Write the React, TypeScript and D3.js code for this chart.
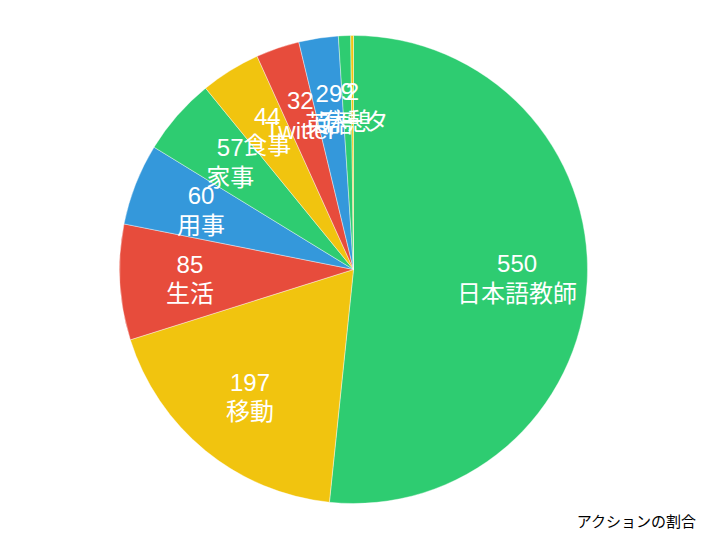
import React from "react";
import * as d3 from "d3";

const categories = ["日本語教師", "移動", "生活", "用事", "家事", "食事", "Twitter", "英語", "休憩", "データ"];
const values = [550, 197, 85, 60, 57, 44, 32, 29, 9, 2];
const palette = ["#2ecc71", "#f1c40f", "#e74c3c", "#3498db"];
const title = "アクションの割合";

const W = 706;
const H = 540;
const cx = 353.5;
const cy = 269.5;
const R = 234;
const FONT = "'Liberation Sans', 'Noto Sans CJK JP', sans-serif";

export default function App() {
  const pie = d3.pie<number>().sort(null).value((d) => d).startAngle(0).endAngle(2 * Math.PI);
  const arcs = pie(values);
  const arc = d3.arc<d3.PieArcDatum<number>>().innerRadius(0).outerRadius(R);
  const labelArc = d3.arc<d3.PieArcDatum<number>>().innerRadius(R * 0.7).outerRadius(R * 0.7);
  const color = (i: number) => palette[i % palette.length];

  return (
    <svg
      width={W}
      height={H}
      style={{ position: "absolute", left: 0, top: 0, display: "block", background: "#fff" }}
    >
      <g transform={`translate(${cx},${cy})`}>
        {arcs.map((a, i) => (
          <path key={"s" + i} d={arc(a) || ""} fill={color(i)} stroke="#ffffff" strokeWidth={0.4} />
        ))}
        {arcs.map((a, i) => {
          const [x, y] = labelArc.centroid(a);
          return (
            <g key={"l" + i} fill="#ffffff" fontFamily={FONT} fontSize={24} textAnchor="middle">
              <text x={x} y={y - 5.5}>{values[i]}</text>
              <text x={x} y={y + 24}>{categories[i]}</text>
            </g>
          );
        })}
      </g>
      <text x={696} y={527} textAnchor="end" fontFamily={FONT} fontSize={15} fill="#000">
        {title}
      </text>
    </svg>
  );
}
